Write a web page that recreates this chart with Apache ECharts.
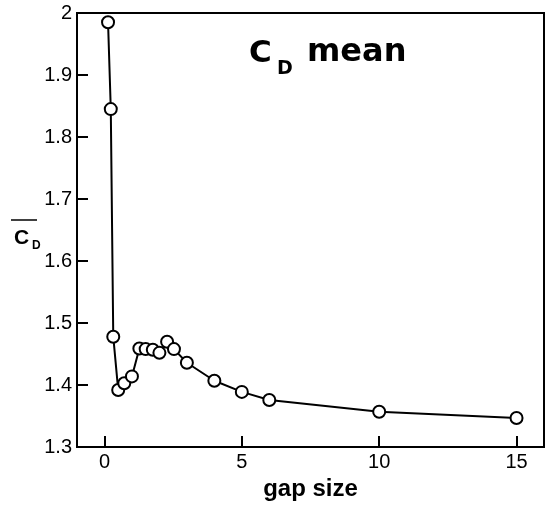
<!DOCTYPE html>
<html>
<head>
<meta charset="utf-8">
<script src="https://cdn.jsdelivr.net/npm/echarts@6/dist/echarts.min.js"></script>
<style>
html,body{margin:0;padding:0;background:#fff;}
#c{width:545px;height:506px;}
</style>
</head>
<body>
<div id="c"></div>
<script>
const gapSize = [0.13, 0.23, 0.32, 0.5, 0.72, 1.0, 1.27, 1.5, 1.76, 2.0, 2.28, 2.53, 3.0, 4.0, 5.0, 6.0, 10.0, 15.0];
const cdMean  = [1.985, 1.845, 1.478, 1.392, 1.403, 1.414, 1.459, 1.458, 1.457, 1.452, 1.470, 1.458, 1.436, 1.407, 1.389, 1.376, 1.357, 1.347];
const xTicks = [0, 5, 10, 15];
const yTicks = [1.3, 1.4, 1.5, 1.6, 1.7, 1.8, 1.9, 2.0];

const chart = echarts.init(document.getElementById('c'), null, {renderer: 'canvas'});
const labelFont = {color: '#000', fontFamily: 'Liberation Sans, Arial', fontSize: 20};
chart.setOption({
  animation: false,
  backgroundColor: '#fff',
  grid: {left: 77, right: 1, top: 13, bottom: 44, show: true, borderColor: '#000', borderWidth: 2},
  xAxis: {
    type: 'value', min: -1, max: 16,
    name: 'gap size', nameLocation: 'middle', nameGap: 16,
    nameTextStyle: {color: '#000', fontFamily: 'Liberation Sans, Arial', fontWeight: 'bold', fontSize: 24},
    axisLine: {show: true, onZero: false, lineStyle: {color: '#000', width: 2}},
    axisTick: {show: true, inside: true, length: 11, lineStyle: {color: '#000', width: 2}, customValues: xTicks},
    axisLabel: Object.assign({margin: 5, customValues: xTicks}, labelFont),
    splitLine: {show: false}
  },
  yAxis: {
    type: 'value', min: 1.3, max: 2.0,
    axisLine: {show: true, onZero: false, lineStyle: {color: '#000', width: 2}},
    axisTick: {show: true, inside: true, length: 11, lineStyle: {color: '#000', width: 2}, customValues: yTicks},
    axisLabel: Object.assign({margin: 5, customValues: yTicks, formatter: v => String(+(+v).toFixed(1))}, labelFont),
    splitLine: {show: false}
  },
  series: [{
    type: 'line',
    data: gapSize.map((x, i) => [x, cdMean[i]]),
    lineStyle: {color: '#000', width: 2},
    symbol: 'circle', symbolSize: 12,
    itemStyle: {color: '#fff', borderColor: '#000', borderWidth: 2}
  }],
  graphic: [
    {type: 'text', left: 249, top: 38, style: {text: 'C', font: 'bold 31px "DejaVu Sans"', fill: '#000'}},
    {type: 'text', left: 277, top: 60, style: {text: 'D', font: 'bold 19px "DejaVu Sans"', fill: '#000'}},
    {type: 'text', left: 307, top: 37, style: {text: 'mean', font: 'bold 32px "DejaVu Sans"', fill: '#000'}},
    {type: 'line', shape: {x1: 11, y1: 220, x2: 37, y2: 220}, style: {stroke: '#000', lineWidth: 1.5}},
    {type: 'text', left: 14, top: 228, style: {text: 'C', font: 'bold 21px "Liberation Sans", Arial', fill: '#000'}},
    {type: 'text', left: 32, top: 240, style: {text: 'D', font: 'bold 12px "Liberation Sans", Arial', fill: '#000'}}
  ]
});
</script>
</body>
</html>
